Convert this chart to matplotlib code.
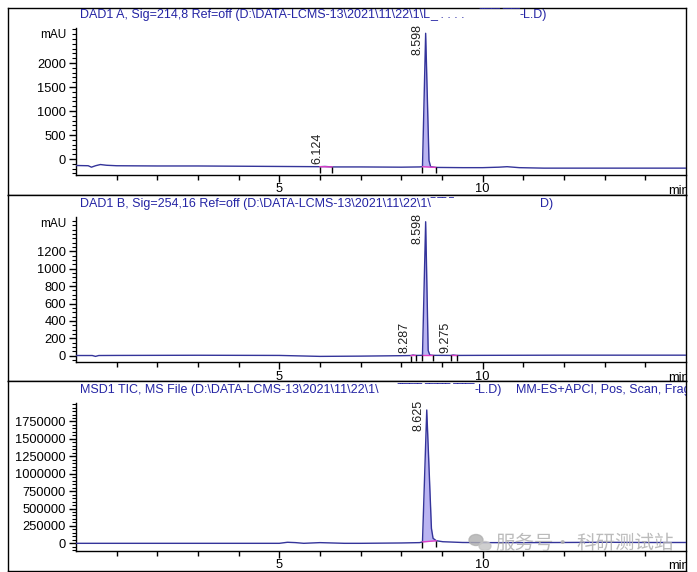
import numpy as np
import matplotlib
matplotlib.use("Agg")
import matplotlib.pyplot as plt
from matplotlib.ticker import FixedLocator, MultipleLocator
from matplotlib.patches import Ellipse
from matplotlib.lines import TICKDOWN

plt.rcParams['font.family'] = ['Liberation Sans', 'DejaVu Sans']

# ------------------------------------------------------------------ data
x_major_ticks = [5, 10]
x_major_labels = ['5', '10']
x_minor_ticks = [1, 2, 3, 4, 6, 7, 8, 9, 11, 12, 13, 14]
x_limits = (0, 15)

# Panel 1: DAD1 A, 214 nm (mAU)
dad_a_time = [0.0, 0.30, 0.38, 0.48, 0.60, 0.75, 1.0, 2.0, 3.0, 4.0, 5.0, 6.0, 6.12, 6.3,
              7.0, 8.0, 8.45, 8.52, 8.598, 8.68, 8.72, 8.85, 9.5, 10.0, 10.4, 10.6, 10.9,
              11.5, 13.0, 15.0]
dad_a_signal = [-135, -140, -170, -140, -115, -130, -140, -145, -145, -150, -155, -160, -155, -165,
                -165, -170, -165, -160, 2620, -30, -160, -175, -180, -180, -170, -160, -180,
                -190, -190, -190]
dad_a_rt = [6.124, 8.598]
dad_a_rt_labels = ['6.124', '8.598']
dad_a_rt_height = [-155, 2620]
dad_a_int_start = [6.0, 8.52]
dad_a_int_end = [6.3, 8.85]
dad_a_yticks = [0, 500, 1000, 1500, 2000]
dad_a_yminor = 100
dad_a_ylim = (-333, 2730)

# Panel 2: DAD1 B, 254 nm (mAU)
dad_b_time = [0.0, 0.40, 0.48, 0.56, 1.0, 3.0, 5.0, 6.0, 7.0, 8.0, 8.24, 8.287, 8.35, 8.52,
              8.598, 8.66, 8.70, 8.79, 9.22, 9.275, 9.36, 10.0, 12.0, 15.0]
dad_b_signal = [2, 2, -8, 2, 3, 5, 3, -8, -5, 0, 2, 8, 3, 4,
                1540, 60, 8, 4, 3, 8, 3, 4, 6, 6]
dad_b_rt = [8.287, 8.598, 9.275]
dad_b_rt_labels = ['8.287', '8.598', '9.275']
dad_b_rt_height = [8, 1540, 8]
dad_b_int_start = [8.24, 8.52, 9.22]
dad_b_int_end = [8.35, 8.79, 9.36]
dad_b_yticks = [0, 200, 400, 600, 800, 1000, 1200]
dad_b_yminor = 50
dad_b_ylim = (-76, 1598)

# Panel 3: MSD1 TIC
tic_time = [0.0, 1.0, 3.0, 5.0, 5.2, 5.4, 5.6, 6.0, 6.3, 6.6, 7.0, 8.0, 8.45, 8.52, 8.625,
            8.74, 8.78, 8.86, 9.02, 9.5, 10.0, 11.0, 12.0, 13.0, 14.0, 15.0]
tic_signal = [0, 0, 0, 0, 15000, 10000, 0, 10000, 5000, 0, 0, 5000, 10000, 20000, 1915000,
              215000, 72000, 37000, 23000, 12000, 10000, 10000, 12000, 15000, 12000, 12000]
tic_rt = [8.625]
tic_rt_labels = ['8.625']
tic_rt_height = [1915000]
tic_int_start = [8.52]
tic_int_end = [8.86]
tic_yticks = [0, 250000, 500000, 750000, 1000000, 1250000, 1500000, 1750000]
tic_yminor = 50000
tic_ylim = (-106000, 2011000)

title_a = "DAD1 A, Sig=214,8 Ref=off (D:\\DATA-LCMS-13\\2021\\11\\22\\1\\L"
title_a_mask1 = "_ . . . ."
title_a_mask2 = "\u203e\u203e\u203e\u203e\u203e \u203e\u203e\u203e\u203e"
title_a_tail = "-L.D)"
title_b = "DAD1 B, Sig=254,16 Ref=off (D:\\DATA-LCMS-13\\2021\\11\\22\\1\\"
title_b_mask = "\u203e \u203e\u203e \u203e"
title_b_tail = "D)"
title_c = "MSD1 TIC, MS File (D:\\DATA-LCMS-13\\2021\\11\\22\\1\\"
title_c_mask = "\u203e\u203e\u203e\u203e\u203e\u203e \u203e\u203e\u203e\u203e\u203e\u203e \u203e\u203e\u203e\u203e\u203e"
title_c_tail = "-L.D)"
title_c_right = "MM-ES+APCI, Pos, Scan, Frag"
unit_label = "mAU"
x_unit = "min"
watermark_a = "服务号"
watermark_dot = "·"
watermark_b = "科研测试站"

# ------------------------------------------------------------------ layout helpers
W, H = 697, 572
def fx(px):
    return px / W
def fy(py):
    return 1 - py / H

TITLE_C = '#2424a4'
LINE_C = '#34349a'
FILL_C = '#bab4f2'
PINK = '#e040c8'
FS = 9.0

fig = plt.figure(figsize=(W / 100, H / 100), dpi=100)

frames_px = [(8, 195), (195, 381), (381, 570.7)]
axes_px = [(28, 175), (216.7, 362.3), (403.3, 550.7)]
frames = []
for top, bot in frames_px:
    axf = fig.add_axes([fx(8), fy(bot), (686 - 8) / W, (bot - top) / H])
    axf.set_xticks([]); axf.set_yticks([])
    for s in axf.spines.values():
        s.set_linewidth(1.0)
        s.set_color('black')
    axf.set_zorder(0)
    frames.append(axf)

panels = [
    dict(t=dad_a_time, v=dad_a_signal, rt=dad_a_rt, rtl=dad_a_rt_labels, rth=dad_a_rt_height,
         s=dad_a_int_start, e=dad_a_int_end, yt=dad_a_yticks, ym=dad_a_yminor, yl=dad_a_ylim,
         unit=True),
    dict(t=dad_b_time, v=dad_b_signal, rt=dad_b_rt, rtl=dad_b_rt_labels, rth=dad_b_rt_height,
         s=dad_b_int_start, e=dad_b_int_end, yt=dad_b_yticks, ym=dad_b_yminor, yl=dad_b_ylim,
         unit=True),
    dict(t=tic_time, v=tic_signal, rt=tic_rt, rtl=tic_rt_labels, rth=tic_rt_height,
         s=tic_int_start, e=tic_int_end, yt=tic_yticks, ym=tic_yminor, yl=tic_ylim,
         unit=False),
]

for i, (p, (top, bot)) in enumerate(zip(panels, axes_px)):
    ax = fig.add_axes([fx(76), fy(bot), (686 - 76) / W, (bot - top) / H])
    ax.set_zorder(1)
    ax.patch.set_alpha(0)
    ax.spines['top'].set_visible(False)
    ax.spines['right'].set_visible(False)
    for sp in ('left', 'bottom'):
        ax.spines[sp].set_linewidth(1.0)
    ax.set_xlim(*x_limits)
    ax.set_ylim(*p['yl'])
    ax.xaxis.set_major_locator(FixedLocator(x_major_ticks))
    ax.set_xticklabels(x_major_labels)
    ax.xaxis.set_minor_locator(FixedLocator(x_minor_ticks))
    ax.yaxis.set_major_locator(FixedLocator(p['yt']))
    ax.set_yticklabels([str(v) for v in p['yt']])
    ax.yaxis.set_minor_locator(MultipleLocator(p['ym']))
    ax.tick_params(axis='x', which='major', length=5, width=1, pad=1, labelsize=FS + 0.3)
    ax.tick_params(axis='x', which='minor', length=3.5, width=1)
    ax.tick_params(axis='y', which='major', length=5, width=1, pad=2.2, labelsize=FS + 0.3)
    ax.tick_params(axis='y', which='minor', length=2.8, width=0.8)

    t = np.array(p['t'], dtype=float)
    v = np.array(p['v'], dtype=float)
    for s, e in zip(p['s'], p['e']):
        bs, be = np.interp(s, t, v), np.interp(e, t, v)
        m = (t > s) & (t < e)
        tt = np.concatenate([[s], t[m], [e]])
        vv = np.concatenate([[bs], v[m], [be]])
        base = np.interp(tt, [s, e], [bs, be])
        ax.fill_between(tt, base, vv, color=FILL_C, lw=0, zorder=2)
    ax.plot(t, v, color=LINE_C, lw=1.0, zorder=3)
    for s, e in zip(p['s'], p['e']):
        bs, be = np.interp(s, t, v), np.interp(e, t, v)
        ax.plot([s, e], [bs, be], color=PINK, lw=1.0, zorder=4)
        ax.plot([s, e], [bs, be], ls='none', marker=TICKDOWN, ms=4, mew=1,
                color='black', zorder=5)
    ymin, ymax = p['yl']
    clamp = ymax - 0.2 * (ymax - ymin)
    for rt, lab, h in zip(p['rt'], p['rtl'], p['rth']):
        ax.annotate(lab, xy=(rt, min(h, clamp)), xytext=(-1.5, 1.5),
                    textcoords='offset points', rotation=90, ha='right', va='bottom',
                    fontsize=FS, color='#202020', zorder=6)
    if p['unit']:
        ax.text(-(76 - 66.7) / 610, 1 - 7.5 / (bot - top), unit_label, transform=ax.transAxes,
                ha='right', va='center', fontsize=8.5)

    frames[i].text(fx(668), fy(bot + 18.5), x_unit, transform=fig.transFigure,
                   ha='left', va='baseline', fontsize=FS + 0.3, clip_on=True)

# titles
tkw = dict(transform=fig.transFigure, fontsize=FS, color=TITLE_C, va='baseline', clip_on=True)
rend = fig.canvas.get_renderer()

def after(txt, gap=0.0):
    bb = txt.get_window_extent(renderer=rend)
    return (bb.x1 + gap) / W

def before(txt, gap=0.0):
    bb = txt.get_window_extent(renderer=rend)
    return (bb.x0 - gap) / W

ta = frames[0].text(fx(80), fy(18.3), title_a, ha='left', **tkw)
frames[0].text(after(ta), fy(18.3), title_a_mask1, ha='left', **tkw)
ta_t = frames[0].text(fx(547), fy(18.3), title_a_tail, ha='right', **tkw)
frames[0].text(before(ta_t), fy(18.3), title_a_mask2, ha='right', **tkw)

tb = frames[1].text(fx(80), fy(207.3), title_b, ha='left', **tkw)
frames[1].text(after(tb), fy(207.3), title_b_mask, ha='left', **tkw)
frames[1].text(fx(553), fy(207.3), title_b_tail, ha='right', **tkw)

tc = frames[2].text(fx(80), fy(392.7), title_c, ha='left', **tkw)
tc_t = frames[2].text(fx(502), fy(392.7), title_c_tail, ha='right', **tkw)
frames[2].text(before(tc_t), fy(392.7), title_c_mask, ha='right', **tkw)
frames[2].text(fx(515.7), fy(392.7), title_c_right, ha='left', **tkw)

# watermark
wm_c = '#b0b0b0'
fig.add_artist(Ellipse((fx(476), fy(540)), 14 / W, 11 / H, transform=fig.transFigure,
                       color=wm_c, alpha=0.8, zorder=10))
fig.add_artist(Ellipse((fx(485), fy(546)), 12 / W, 9 / H, transform=fig.transFigure,
                       color='#c4c4c4', alpha=0.8, zorder=10))
wkw = dict(transform=fig.transFigure, color=wm_c, alpha=0.85, va='center', zorder=10,
           family=['Noto Sans CJK SC'])
fig.text(fx(495), fy(543), watermark_a, ha='left', fontsize=14, **wkw)
fig.text(fx(562), fy(543), watermark_dot, ha='center', fontsize=14, **wkw)
fig.text(fx(576), fy(543), watermark_b, ha='left', fontsize=14, **wkw)

fig.savefig('out.png', dpi=100)
